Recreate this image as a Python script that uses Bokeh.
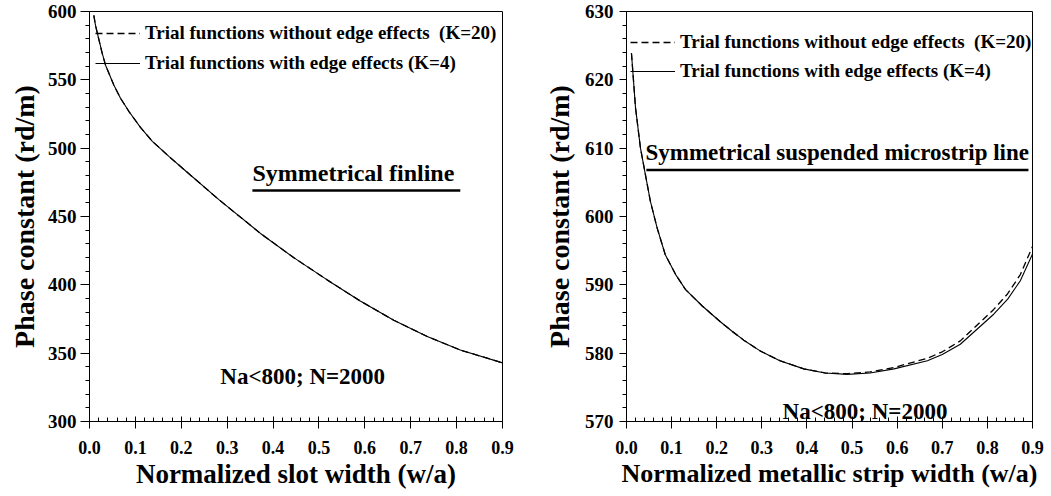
from bokeh.plotting import figure
from bokeh.layouts import row
from bokeh.models import (Range1d, SingleIntervalTicker, Legend, LegendItem,
                          Label, NumeralTickFormatter)
from bokeh.embed import file_html
from bokeh.resources import INLINE

# ---------------- data ----------------
# Left panel: Symmetrical finline
fin_x = [0.0094, 0.0131, 0.020, 0.0276, 0.035, 0.053, 0.0676, 0.086, 0.111,
         0.137, 0.173, 0.209, 0.282, 0.3726, 0.445, 0.518, 0.590, 0.663,
         0.736, 0.808, 0.9]
fin_solid = [597.1, 589.8, 580.1, 569.5, 560.7, 546.2, 536.5, 526.8, 515.2,
             505.0, 494.0, 483.5, 462.3, 437.6, 419.9, 403.6, 388.2, 374.1,
             362.2, 352.3, 342.9]
fin_dashed = [597.1, 589.8, 580.1, 569.5, 560.7, 546.2, 536.5, 526.8, 515.2,
              505.0, 494.0, 483.5, 462.3, 437.6, 419.9, 403.6, 388.2, 374.1,
              362.2, 352.3, 342.9]

# Right panel: Symmetrical suspended microstrip line
ms_x = [0.011, 0.020, 0.031, 0.042, 0.053, 0.068, 0.086, 0.109, 0.131, 0.168,
        0.208, 0.234, 0.26, 0.297, 0.34, 0.393, 0.44, 0.489, 0.54, 0.593,
        0.667, 0.70, 0.740, 0.814, 0.845, 0.873, 0.9]
ms_solid = [623.9, 615.9, 610.0, 606.1, 602.2, 598.3, 594.4, 591.5, 589.3,
            586.9, 584.6, 583.2, 581.9, 580.3, 578.9, 577.7, 577.1, 576.9,
            577.1, 577.7, 578.9, 579.8, 581.3, 585.7, 587.9, 590.6, 594.5]
ms_dashed = [623.9, 615.9, 610.0, 606.1, 602.2, 598.3, 594.4, 591.5, 589.3,
             586.9, 584.6, 583.2, 581.9, 580.3, 578.9, 577.7, 577.1, 577.0,
             577.25, 577.9, 579.25, 580.2, 581.8, 586.4, 588.7, 591.5, 595.6]

label_dashed = "Trial functions without edge effects  (K=20)"
label_solid = "Trial functions with edge effects (K=4)"
note_text = "Na<800;  N=2000"

FONT = "'Liberation Serif', 'Times New Roman', Times, serif"


def style(p, ytick_interval, tick_out, ystandoff, xlabel_size):
    p.xgrid.visible = False
    p.ygrid.visible = False
    p.outline_line_color = "black"
    p.outline_line_width = 1
    p.background_fill_color = "white"
    p.border_fill_color = "white"
    p.xaxis.ticker = SingleIntervalTicker(interval=0.1, num_minor_ticks=5)
    p.xaxis.formatter = NumeralTickFormatter(format="0.0")
    p.yaxis.ticker = SingleIntervalTicker(interval=ytick_interval, num_minor_ticks=5)
    for ax in (p.xaxis[0], p.yaxis[0]):
        ax.axis_line_color = "black"
        ax.major_tick_line_color = "black"
        ax.minor_tick_line_color = "black"
        ax.major_label_text_font = FONT
        ax.major_label_text_font_style = "bold"
        ax.major_label_text_color = "black"
        ax.axis_label_text_font = FONT
        ax.axis_label_text_font_style = "bold"
        ax.axis_label_text_color = "black"
    p.xaxis.axis_label_text_font_size = xlabel_size
    p.yaxis.axis_label_text_font_size = "28px"
    p.xaxis.major_label_text_font_size = "18px"
    p.yaxis.major_label_text_font_size = "19px"
    p.xaxis.major_tick_in = 5
    p.xaxis.major_tick_out = 7
    p.xaxis.minor_tick_in = 4
    p.xaxis.minor_tick_out = 0
    p.xaxis.major_label_standoff = 12
    p.xaxis.axis_label_standoff = 2
    p.yaxis.major_tick_in = 0
    p.yaxis.major_tick_out = tick_out
    p.yaxis.minor_tick_in = 0
    p.yaxis.minor_tick_out = 4
    p.yaxis.major_label_standoff = ystandoff


def add_legend(p, r_dash, r_solid, loc, pad, spacing):
    leg = Legend(items=[LegendItem(label=label_dashed, renderers=[r_dash]),
                        LegendItem(label=label_solid, renderers=[r_solid])],
                 location=loc, margin=0, padding=pad,
                 glyph_width=45, glyph_height=22, label_height=22,
                 label_standoff=5, spacing=spacing,
                 background_fill_alpha=0, border_line_alpha=0,
                 label_text_font=FONT, label_text_font_style="bold",
                 label_text_font_size="19px", label_text_color="black")
    p.add_layout(leg)


def add_text(p, x, y, txt, size="23px"):
    p.add_layout(Label(x=x, y=y, text=txt, text_font=FONT,
                       text_font_style="bold", text_font_size=size,
                       text_baseline="middle", text_align="left",
                       text_color="black"))


# ---------------- left panel ----------------
p1 = figure(width=520, height=496, output_backend="svg", toolbar_location=None,
            x_range=Range1d(0, 0.9), y_range=Range1d(300, 600),
            min_border_left=89, min_border_right=18, min_border_top=11,
            min_border_bottom=73,
            x_axis_label="Normalized slot width (w/a)",
            y_axis_label="Phase constant (rd/m)")
style(p1, 50, 9, 4, "27px")
p1.yaxis.axis_label_standoff = 5
r1d = p1.line(fin_x, fin_dashed, line_color="black", line_width=1.3, line_dash="7 4")
r1s = p1.line(fin_x, fin_solid, line_color="black", line_width=1.1)
add_legend(p1, r1d, r1s, (0, 341), 6, 8)
add_text(p1, 0.355, 482, "Symmetrical finline", "24px")
p1.segment(x0=[0.355], y0=[469.0], x1=[0.808], y1=[469.0], line_color="black", line_width=2.5)
add_text(p1, 0.285, 332.8, note_text)

# ---------------- right panel ----------------
p2 = figure(width=531, height=496, output_backend="svg", toolbar_location=None,
            x_range=Range1d(0, 0.9), y_range=Range1d(570, 630),
            min_border_left=106, min_border_right=19, min_border_top=10,
            min_border_bottom=75,
            x_axis_label="Normalized metallic strip width (w/a)",
            y_axis_label="Phase constant (rd/m)")
style(p2, 10, 7, 6, "26px")
p2.yaxis.axis_label_standoff = 7
r2d = p2.line(ms_x, ms_dashed, line_color="black", line_width=1.3, line_dash="7 4")
r2s = p2.line(ms_x, ms_solid, line_color="black", line_width=1.1)
add_legend(p2, r2d, r2s, (0, 335), 4, 7)
add_text(p2, 0.042, 609.3, "Symmetrical suspended microstrip line")
p2.segment(x0=[0.044], y0=[606.8], x1=[0.891], y1=[606.8], line_color="black", line_width=2.5)
add_text(p2, 0.346, 571.4, note_text)

layout = row(p1, p2)
open("out.html", "w").write(file_html(layout, INLINE))
